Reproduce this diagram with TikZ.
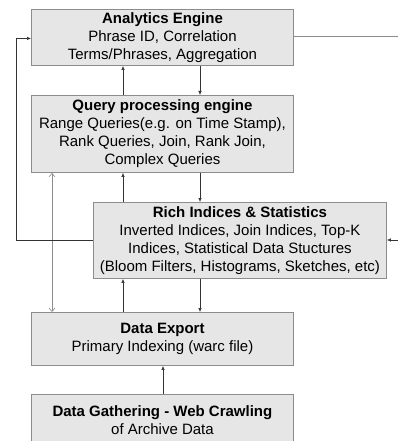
\documentclass[tikz,border=0pt]{standalone}
\usepackage{fontspec}
\setmainfont{Liberation Sans}
\usetikzlibrary{arrows.meta}
\definecolor{boxfill}{HTML}{E6E6E6}
\definecolor{boxline}{HTML}{8C8C8C}
\definecolor{conn}{HTML}{333333}
\begin{document}
\begin{tikzpicture}[x=1pt,y=-1pt,
  box/.style={draw=boxline, line width=0.9pt, fill=boxfill, anchor=north west, inner sep=0pt,
    align=center, font=\fontsize{15}{18}\selectfont, text=black},
  conn/.style={draw=conn, line width=0.6pt, -{Latex[length=4pt,width=3.5pt]}},
  plain/.style={draw=boxline, line width=0.9pt},
  dbl/.style={draw=boxline, line width=0.6pt, {Straight Barb[length=3.5pt,width=6pt]}-{Straight Barb[length=3.5pt,width=6pt]}}]
\useasboundingbox (0,0) rectangle (398,441);
\fill[white] (0,0) rectangle (398,441);

\node[box, minimum width=262pt, minimum height=56pt] (ae) at (31,9)
  {\textbf{Analytics Engine}\\Phrase ID, Correlation\\Terms/Phrases, Aggregation};
\node[box, minimum width=262pt, minimum height=77pt] (qpe) at (31,95)
  {\textbf{Query processing engine}\\Range Queries(e.g. on Time Stamp),\\Rank Queries, Join, Rank Join,\\Complex Queries};
\node[box, minimum width=293pt, minimum height=76pt] (rich) at (93,202)
  {\textbf{Rich Indices \& Statistics}\\Inverted Indices, Join Indices, Top-K\\Indices, Statistical Data Stuctures\\(Bloom Filters, Histograms, Sketches, etc)};
\node[box, minimum width=262pt, minimum height=53pt] (de) at (31,312)
  {\textbf{Data Export}\\Primary Indexing (warc file)};
\node[box, minimum width=262pt, minimum height=52pt] (dg) at (31,394)
  {\textbf{Data Gathering - Web Crawling}\\of Archive Data};

\coordinate (xa) at (123,0);
\coordinate (xb) at (200,0);
\coordinate (xc) at (163,0);
\coordinate (xd) at (52,0);
\coordinate (rt) at (398,36);
\coordinate (rr) at (398,240);

% vertical connectors
\draw[conn] (qpe.north -| xa) -- (ae.south -| xa);
\draw[conn] (ae.south -| xb) -- (qpe.north -| xb);
\draw[conn] (rich.north -| xa) -- (qpe.south -| xa);
\draw[conn] (qpe.south -| xb) -- (rich.north -| xb);
\draw[conn] (de.north -| xa) -- (rich.south -| xa);
\draw[conn] (rich.south -| xb) -- (de.north -| xb);
\draw[conn] (dg.north -| xc) -- (de.south -| xc);
\draw[dbl] (qpe.south -| xd) -- (de.north -| xd);

% left loop
\draw[conn] (rich.west) -- ++(-77,0) |- ([yshift=-1pt]ae.west);

% right lines
\draw[plain, draw=boxline] (ae.east |- rt) -- (rt);
\draw[conn] (rr) -- (rich.east |- rr);
\end{tikzpicture}
\end{document}
